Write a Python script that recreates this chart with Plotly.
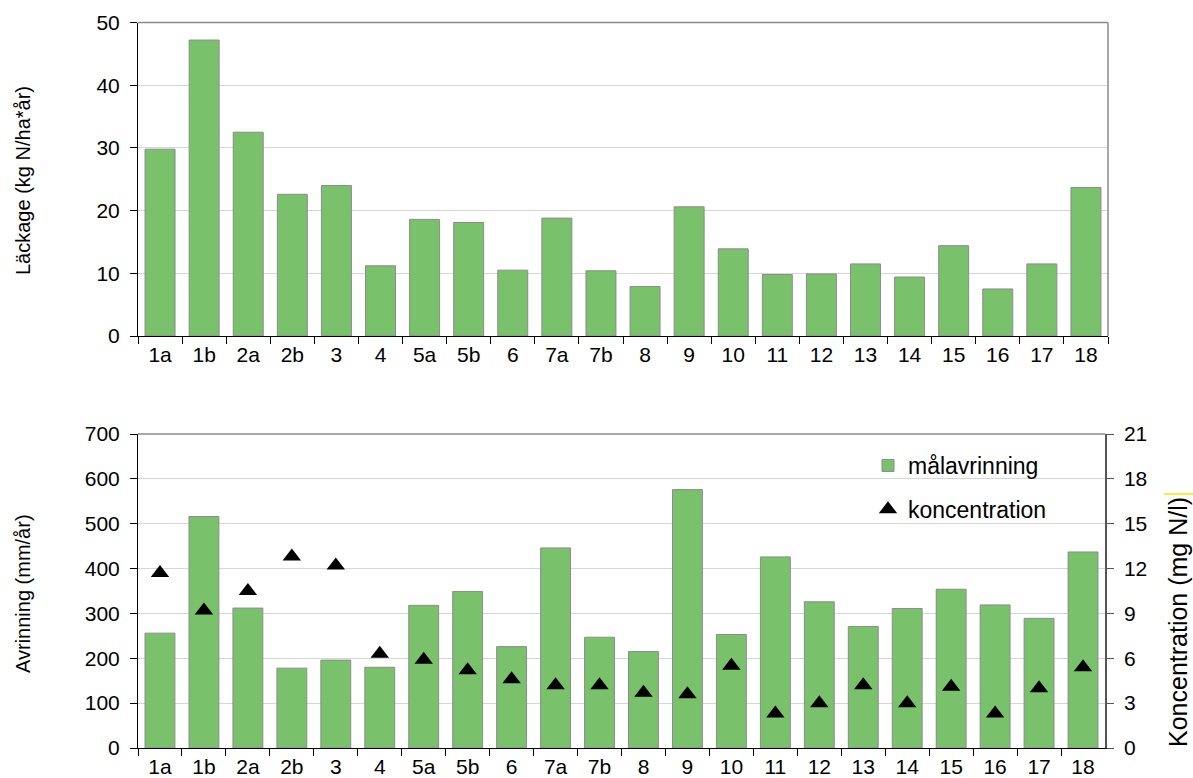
import plotly.graph_objects as go

# Försöksplatser
sites = ['1a', '1b', '2a', '2b', '3', '4', '5a', '5b', '6', '7a', '7b', '8',
         '9', '10', '11', '12', '13', '14', '15', '16', '17', '18']

# Kväveläckage (kg N/ha*år)
lackage = [29.8, 47.2, 32.5, 22.6, 24.0, 11.2, 18.6, 18.1, 10.5, 18.8, 10.4,
           7.9, 20.6, 13.9, 9.8, 9.9, 11.5, 9.4, 14.4, 7.5, 11.5, 23.7]

# Avrinning (mm/år)
avrinning = [256, 516, 312, 178, 196, 180, 318, 349, 226, 446, 247, 215,
             576, 253, 426, 326, 271, 311, 354, 319, 289, 437]

# Kvävekoncentration (mg N/l)
koncentration = [11.7, 9.2, 10.5, 12.8, 12.2, 6.3, 5.9, 5.2, 4.6, 4.2, 4.2,
                 3.7, 3.6, 5.5, 2.3, 3.0, 4.2, 3.0, 4.1, 2.3, 4.0, 5.4]

W, H = 1193, 778
BAR_GREEN = '#79C16B'
BAR_EDGE = '#8C8C8C'
GRID = '#D6D6D6'
FRAME = '#8A8A8A'
FONT = 'Liberation Sans, Arial, sans-serif'
TICK_FONT = dict(family=FONT, size=21, color='black')

n = len(sites)
boundaries = [i - 0.5 for i in range(n + 1)]

def px_x(p):
    return p / W

def px_y(p):
    return 1 - p / H

top_dom_x = [px_x(138), px_x(1108)]
bot_dom_x = [px_x(138), px_x(1105)]
top_dom_y = [px_y(336), px_y(22.5)]
bot_dom_y = [px_y(748), px_y(434)]

fig = go.Figure()

fig.add_trace(go.Bar(
    x=sites, y=lackage, xaxis='x', yaxis='y',
    marker=dict(color=BAR_GREEN, line=dict(color=BAR_EDGE, width=1)),
    showlegend=False,
))

fig.add_trace(go.Bar(
    x=sites, y=avrinning, xaxis='x2', yaxis='y2', name='målavrinning',
    marker=dict(color=BAR_GREEN, line=dict(color=BAR_EDGE, width=1)),
    legendgroup='a',
))

fig.add_trace(go.Scatter(
    x=sites, y=koncentration, xaxis='x2', yaxis='y3', name='koncentration',
    mode='markers',
    marker=dict(symbol='triangle-up', size=16, color='black'),
    legendgroup='b',
))

common_x = dict(
    type='category', categoryorder='array', categoryarray=sites,
    range=[-0.5, n - 0.5], tickson='boundaries', ticks='outside', ticklen=7,
    tickcolor='black', tickwidth=1, showline=True, linecolor='black',
    linewidth=1, showgrid=False, tickfont=TICK_FONT, fixedrange=True,
    automargin=False,
)
inside_x = dict(
    type='linear', range=[-0.5, n - 0.5], tickvals=boundaries, ticks='inside',
    ticklen=7, tickcolor='black', tickwidth=1, showticklabels=False,
    showline=False, showgrid=False, zeroline=False, fixedrange=True,
    automargin=False,
)

def axis_title(text, x, y, size):
    return dict(text=text, textangle=-90, x=px_x(x), y=px_y(y),
                xref='paper', yref='paper', xanchor='center', yanchor='middle',
                showarrow=False, font=dict(family=FONT, size=size, color='black'))

fig.update_layout(
    width=W, height=H,
    margin=dict(l=0, r=0, t=0, b=0, autoexpand=False),
    paper_bgcolor='white', plot_bgcolor='white',
    bargap=0.32,
    xaxis=dict(domain=top_dom_x, anchor='y', **common_x),
    xaxis4=dict(domain=top_dom_x, anchor='y', overlaying='x', **inside_x),
    yaxis=dict(
        domain=top_dom_y, anchor='x', range=[0, 50], dtick=10,
        ticks='outside', ticklen=7, tickcolor='black', showline=True,
        linecolor='black', linewidth=1, showgrid=True, gridcolor=GRID,
        gridwidth=1, zeroline=False, tickfont=TICK_FONT,
        ticklabelstandoff=6, fixedrange=True, automargin=False,
    ),
    xaxis2=dict(domain=bot_dom_x, anchor='y2', **common_x),
    xaxis3=dict(domain=bot_dom_x, anchor='y2', overlaying='x2', **inside_x),
    yaxis2=dict(
        domain=bot_dom_y, anchor='x2', range=[0, 700], dtick=100,
        ticks='outside', ticklen=7, tickcolor='black', showline=True,
        linecolor='black', linewidth=1, showgrid=True, gridcolor=GRID,
        gridwidth=1, zeroline=False, tickfont=TICK_FONT,
        ticklabelstandoff=6, fixedrange=True, automargin=False,
    ),
    yaxis4=dict(
        domain=bot_dom_y, anchor='x2', overlaying='y2', range=[0, 700],
        dtick=100, ticks='inside', ticklen=7, tickcolor='black',
        showticklabels=False, showline=False, showgrid=False,
        zeroline=False, fixedrange=True, automargin=False,
    ),
    yaxis3=dict(
        domain=bot_dom_y, anchor='x2', overlaying='y2', side='right',
        range=[0, 21], dtick=3, ticks='outside', ticklen=7,
        tickcolor='#555555', showline=True, linecolor='#555555',
        linewidth=1.5, showgrid=False, zeroline=False, tickfont=TICK_FONT,
        ticklabelstandoff=6, fixedrange=True, automargin=False,
    ),
    legend=dict(
        x=px_x(868), y=px_y(444), xanchor='left', yanchor='top',
        bgcolor='rgba(0,0,0,0)', borderwidth=0,
        font=dict(family=FONT, size=23, color='black'),
        traceorder='grouped', tracegroupgap=11,
    ),
    annotations=[
        axis_title('Läckage (kg N/ha*år)', 23, 181, 20),
        axis_title('Avrinning (mm/år)', 23, 594, 20),
        axis_title('Koncentration (mg N/l)', 1178, 622, 25),
    ],
    shapes=[
        # frame of the upper plot (top and right edges)
        dict(type='line', xref='x domain', yref='y domain', x0=0, x1=1, y0=1, y1=1,
             line=dict(color=FRAME, width=1.5)),
        dict(type='line', xref='x domain', yref='y domain', x0=1, x1=1, y0=0, y1=1,
             line=dict(color=FRAME, width=1.5)),
        # top edge of the lower plot
        dict(type='line', xref='x2 domain', yref='y2 domain', x0=0, x1=1, y0=1, y1=1,
             line=dict(color=FRAME, width=1.5)),
        # small yellow stroke beside the right-hand axis title
        dict(type='line', xref='paper', yref='paper', x0=px_x(1164), x1=px_x(1193),
             y0=px_y(494), y1=px_y(494), line=dict(color='#F5E600', width=1.5)),
    ],
)

fig.write_html('out.html')
